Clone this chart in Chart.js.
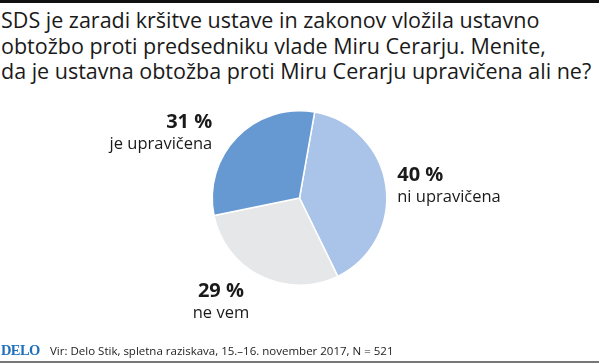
<!DOCTYPE html>
<html>
<head>
<meta charset="utf-8">
<script src="https://cdn.jsdelivr.net/npm/chart.js@4"></script>
<style>
  html, body { margin: 0; padding: 0; background: #fff; }
  #wrap { position: relative; width: 599px; height: 364px; overflow: hidden; font-family: "Open Sans", sans-serif; }
  #topbar { position: absolute; left: 0; top: 0; width: 599px; height: 3px; background: #111; }
  #title { position: absolute; left: 1px; top: 7px; font-size: 21.5px; line-height: 25.5px; color: #1a1a1a; white-space: nowrap; }
  #chart { position: absolute; left: 0; top: 0; }
  #footer { position: absolute; left: 0; top: 340px; width: 599px; height: 24px; }
  #logo { position: absolute; left: 1px; top: 2px; font-family: "Liberation Serif", serif; font-weight: bold; font-size: 14.5px; color: #1f6fc0; letter-spacing: -0.6px; }
  #source { position: absolute; left: 50px; top: 3px; font-size: 11.5px; color: #222; }
  #bottomline { position: absolute; left: 0; top: 361px; width: 599px; height: 2px; background: #777; }
</style>
</head>
<body>
<div id="wrap">
  <div id="topbar"></div>
  <div id="title">SDS je zaradi kršitve ustave in zakonov vložila ustavno<br>obtožbo proti predsedniku vlade Miru Cerarju. Menite,<br>da je ustavna obtožba proti Miru Cerarju upravičena ali ne?</div>
  <canvas id="chart" width="599" height="364"></canvas>
  <div id="footer"><span id="logo">DELO</span><span id="source">Vir: Delo Stik, spletna raziskava, 15.–16. november 2017, N = 521</span></div>
  <div id="bottomline"></div>
</div>
<script>
const categories = ['ni upravičena', 'ne vem', 'je upravičena'];
const values = [40, 29, 31];
const colors = ['#a9c4e8', '#e6e7e9', '#6699d2'];

// label placement around the pie (designer placed them by hand)
const labelPlugin = {
  id: 'sliceLabels',
  afterDatasetsDraw(chart) {
    const ctx = chart.ctx;
    const meta = chart.getDatasetMeta(0);
    meta.data.forEach((arc, i) => {
      const cx = arc.x, cy = arc.y, r = arc.outerRadius;
      let x, y, align;
      if (i === 0) { x = cx + r * 1.12; y = cy - 17; align = 'left'; }
      else if (i === 1) { x = cx - r * 0.9; y = cy + r * 1.13; align = 'center'; }
      else { x = cx - r * 1.0; y = cy - r * 0.8; align = 'right'; }
      ctx.save();
      ctx.textAlign = align;
      ctx.textBaseline = 'alphabetic';
      ctx.fillStyle = '#1a1a1a';
      ctx.font = 'bold 20px "Open Sans"';
      ctx.fillText(values[i] + ' %', x, y);
      ctx.font = '16.5px "Open Sans"';
      ctx.fillText(categories[i], x, y + 21);
      ctx.restore();
    });
  }
};

new Chart(document.getElementById('chart'), {
  type: 'pie',
  data: {
    labels: categories,
    datasets: [{
      data: values,
      backgroundColor: colors,
      borderColor: '#ffffff',
      borderWidth: 1.5
    }]
  },
  options: {
    responsive: false,
    animation: false,
    rotation: 10,
    layout: { padding: { top: 110, bottom: 78, left: 0, right: 0 } },
    plugins: {
      legend: { display: false },
      tooltip: { enabled: false }
    }
  },
  plugins: [labelPlugin]
});
</script>
</body>
</html>
